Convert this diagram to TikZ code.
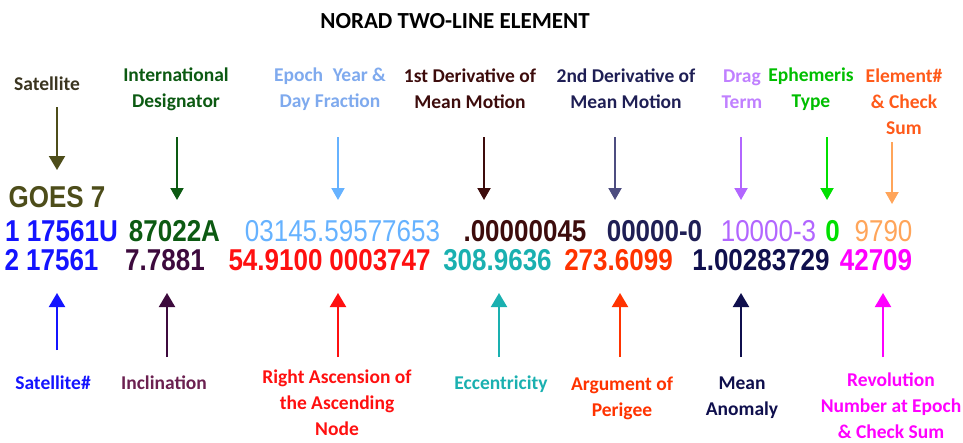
\documentclass[tikz,border=0pt]{standalone}
\usepackage{fontspec}
\setmainfont{Carlito}
\newfontfamily\valfont{Liberation Sans}
\usetikzlibrary{arrows.meta}
\definecolor{satlbl}{HTML}{3B3520}
\definecolor{satcol}{HTML}{4D4D1A}
\definecolor{intlcol}{HTML}{0C5A12}
\definecolor{epochlbl}{HTML}{7FAAEE}
\definecolor{epochcol}{HTML}{66B2FF}
\definecolor{dunecol}{HTML}{3D0C0C}
\definecolor{ddeuxcol}{HTML}{1F1F55}
\definecolor{ddeuxarr}{HTML}{4D4D80}
\definecolor{draglbl}{HTML}{C080FF}
\definecolor{dragcol}{HTML}{B266FF}
\definecolor{ephcol}{HTML}{00E000}
\definecolor{elemlbl}{HTML}{FF5A1A}
\definecolor{elemcol}{HTML}{FFA55A}
\definecolor{satnumcol}{HTML}{1414FF}
\definecolor{inclcol}{HTML}{3D0A3D}
\definecolor{incllbl}{HTML}{6B2050}
\definecolor{raancol}{HTML}{FF1010}
\definecolor{ecccol}{HTML}{1AB0B0}
\definecolor{argpcol}{HTML}{FF3300}
\definecolor{meancol}{HTML}{0F0F4D}
\definecolor{revcol}{HTML}{FF00FF}
% chiffres un peu etires en hauteur, comme dans l'original
\newcommand{\tlev}[1]{\scalebox{1}[1.16]{#1}}

\begin{document}
\begin{tikzpicture}[x=1pt, y=-1pt,
  lbl/.style={align=center, inner sep=0pt, font=\fontsize{19.5}{26}\selectfont\bfseries},
  val/.style={inner sep=0pt, font=\fontsize{26}{30}\selectfont\valfont\bfseries},
  valr/.style={inner sep=0pt, font=\fontsize{26}{30}\selectfont\valfont},
  arr/.style={line width=2pt, -{Triangle[width=13pt,length=12pt]}},
  bigarr/.style={line width=2pt, -{Triangle[width=16pt,length=14pt]}}]
  \useasboundingbox (0,0) rectangle (963,442);
  \node[inner sep=0pt, font=\fontsize{23}{26}\selectfont\bfseries] (title) at (455,21) {NORAD TWO-LINE ELEMENT};
  % etiquettes du haut
  \node[lbl, satlbl] (lsat) at (47,84) {Satellite};
  \node[lbl, intlcol] (lintl) at (176,89) {International\\Designator};
  \node[lbl, epochlbl] (lepoch) at (330,89) {Epoch\enspace Year \&\\Day Fraction};
  \node[lbl, dunecol] (ldune) at (470,89) {1st Derivative of\\Mean Motion};
  \node[lbl, ddeuxcol] (lddeux) at (626,89) {2nd Derivative of\\Mean Motion};
  \node[lbl, draglbl] (ldrag) at (742,89) {Drag\\Term};
  \node[lbl, ephcol!85!black] (leph) at (811,89) {Ephemeris\\Type};
  \node[lbl, elemlbl] (lelem) at (904,102) {Element\#\\\& Check\\Sum};
  % les deux lignes du TLE
  \node[val, satcol] (goes) at (57,197) {\tlev{GOES 7}};
  \node[val, satnumcol] (satun) at (61.5,231) {\tlev{1 17561U}};
  \node[val, intlcol] (intl) at (174.5,231) {\tlev{87022A}};
  \node[valr, epochcol] (epoch) at (342.5,231) {\tlev{03145.59577653}};
  \node[val, dunecol] (dune) at (525,231) {\tlev{.00000045}};
  \node[val, ddeuxcol] (ddeux) at (654.5,231) {\tlev{00000-0}};
  \node[valr, dragcol] (drag) at (768.5,231) {\tlev{10000-3}};
  \node[val, ephcol] (eph) at (832.5,231) {\tlev{0}};
  \node[valr, elemcol] (elem) at (883.5,231) {\tlev{9790}};
  \node[val, satnumcol] (satdeux) at (51.5,260) {\tlev{2 17561}};
  \node[val, inclcol] (incl) at (165,260) {\tlev{7.7881}};
  \node[val, raancol] (raan) at (275.5,260) {\tlev{54.9100}};
  \node[val, raancol] (ecc) at (380,260) {\tlev{0003747}};
  \node[val, ecccol] (argp) at (497.5,260) {\tlev{308.9636}};
  \node[val, argpcol] (mean) at (618.5,260) {\tlev{273.6099}};
  \node[val, meancol] (motion) at (761,260) {\tlev{1.00283729}};
  \node[val, revcol] (rev) at (876,260) {\tlev{42709}};
  % etiquettes du bas
  \node[lbl, satnumcol] (lsatnum) at (53,383) {Satellite\#};
  \node[lbl, incllbl] (lincl) at (164,383) {Inclination};
  \node[lbl, raancol] (lraan) at (337,403) {Right Ascension of\\the Ascending\\Node};
  \node[lbl, ecccol] (lecc) at (501,384) {Eccentricity};
  \node[lbl, argpcol] (largp) at (622,398) {Argument of\\Perigee};
  \node[lbl, meancol] (lmean) at (742,398) {Mean\\Anomaly};
  \node[lbl, revcol] (lrev) at (891,406) {Revolution\\Number at Epoch\\\& Check Sum};
  % fleches
  \coordinate (sat-a) at (57,107);
  \coordinate (sat-b) at (57,170);
  \draw[bigarr, satcol] (sat-a) -- (sat-b);
  \foreach \n/\x/\ya/\yb/\c in {intl/177/137/200/intlcol, epoch/338/137/200/epochcol,
      dune/484/137/200/dunecol, ddeux/615/137/200/ddeuxarr, drag/741/137/200/dragcol,
      eph/827/137/200/ephcol, elem/892/142/204/elemcol} {
    \coordinate (\n-a) at (\x,\ya);
    \coordinate (\n-b) at (\x,\yb);
    \draw[arr, \c] (\n-a) -- (\n-b);
  }
  \foreach \n/\x/\ya/\c in {satnum/57/350/satnumcol, incl/167/357/inclcol, raan/338/357/raancol,
      ecc/499/357/ecccol, argp/620/357/argpcol, mean/741/357/meancol, rev/883/357/revcol} {
    \coordinate (\n-a) at (\x,\ya);
    \coordinate (\n-b) at (\x,293);
    \draw[bigarr, \c] (\n-a) -- (\n-b);
  }
\end{tikzpicture}
\end{document}
